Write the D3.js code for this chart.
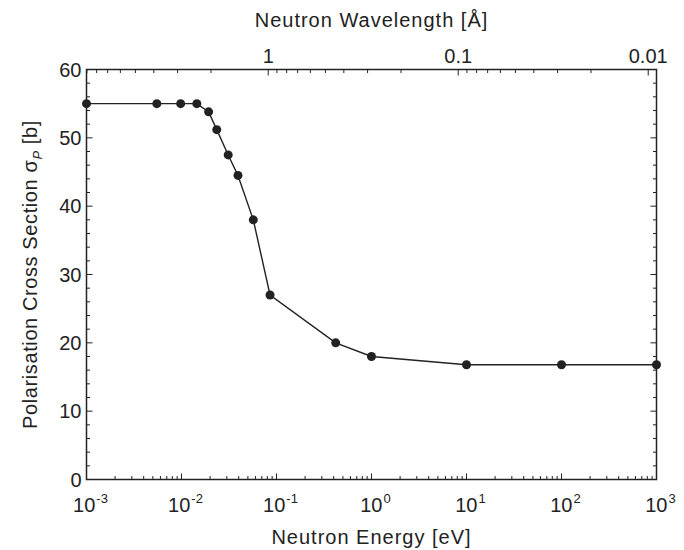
<!DOCTYPE html>
<html lang="en">
<head>
  <meta charset="UTF-8">
  <title>Polarisation cross section</title>
  <style>
    body { margin: 0; background: #fff; }
    text { font-family: 'Liberation Sans', Arial, sans-serif; fill: #222; }
  </style>
</head>
<body>
  <svg id="svg" width="684" height="550"></svg>

  <script src="https://d3js.org/d3.v7.min.js"></script>
  <script>
    // data
    const energy = [0.001, 0.0055, 0.0098, 0.0145, 0.0193, 0.0235, 0.031, 0.0393, 0.057, 0.0855, 0.42, 1, 10, 100, 1000]
    const sigma = [55, 55, 55, 55, 53.8, 51.2, 47.5, 44.5, 38, 27, 20, 18, 16.8, 16.8, 16.8]
    const energyTicks = [1e-3, 1e-2, 1e-1, 1e0, 1e1, 1e2, 1e3]
    const energyExps = ['-3', '-2', '-1', '0', '1', '2', '3']
    const sigmaTicks = [0, 10, 20, 30, 40, 50, 60]
    const lambdaTicks = [1, 0.1, 0.01]
    const lambdaLabels = ['1', '0.1', '0.01']

    const pl = 86.5, pr = 656.5, pt = 69.5, pb = 479.5
    const ink = '#222'

    // E [eV] = 0.08181 / lambda^2
    const lambdaToE = l => 0.08181 / (l * l)

    const x = d3.scaleLog().domain([1e-3, 1e3]).range([pl, pr])
    const y = d3.scaleLinear().domain([0, 60]).range([pb, pt])

    const svg = d3.select('#svg')

    // minor ticks
    const minorE = []
    for (let p = -3; p < 3; p++) {
      for (let m = 2; m <= 9; m++) minorE.push(m * Math.pow(10, p))
    }
    const minorL = []
    for (let p = 0; p >= -2; p--) {
      for (let m = 2; m <= 9; m++) minorL.push(m * Math.pow(10, p))
    }
    const minorLin = d3.range(0, 61, 2).filter(v => v % 10 !== 0)

    const ticks = svg.append('g')
      .attr('stroke', ink)
      .attr('stroke-width', 1)

    // bottom
    ticks.append('g').selectAll('line').data(energyTicks).enter().append('line')
      .attr('x1', d => x(d)).attr('x2', d => x(d))
      .attr('y1', pb).attr('y2', pb - 6)
    ticks.append('g').selectAll('line').data(minorE).enter().append('line')
      .attr('x1', d => x(d)).attr('x2', d => x(d))
      .attr('y1', pb).attr('y2', pb - 3.5)

    // top (wavelength)
    ticks.append('g').selectAll('line').data(lambdaTicks).enter().append('line')
      .attr('x1', d => x(lambdaToE(d))).attr('x2', d => x(lambdaToE(d)))
      .attr('y1', pt).attr('y2', pt + 6)
    ticks.append('g').selectAll('line').data(minorL.filter(l => lambdaToE(l) >= 1e-3 && lambdaToE(l) <= 1e3)).enter().append('line')
      .attr('x1', d => x(lambdaToE(d))).attr('x2', d => x(lambdaToE(d)))
      .attr('y1', pt).attr('y2', pt + 3.5)

    // left and right
    ;[[pl, 1], [pr, -1]].forEach(([sx, dir]) => {
      ticks.append('g').selectAll('line').data(sigmaTicks).enter().append('line')
        .attr('x1', sx).attr('x2', sx + dir * 6)
        .attr('y1', d => y(d)).attr('y2', d => y(d))
      ticks.append('g').selectAll('line').data(minorLin).enter().append('line')
        .attr('x1', sx).attr('x2', sx + dir * 3.5)
        .attr('y1', d => y(d)).attr('y2', d => y(d))
    })

    // frame
    svg.append('rect')
      .attr('x', pl).attr('y', pt)
      .attr('width', pr - pl).attr('height', pb - pt)
      .attr('fill', 'none')
      .attr('stroke', ink)
      .attr('stroke-width', 1.5)

    // curve
    const pts = energy.map((e, i) => [x(e), y(sigma[i])])
    svg.append('path')
      .attr('d', d3.line()(pts))
      .attr('fill', 'none')
      .attr('stroke', ink)
      .attr('stroke-width', 1.4)
    svg.append('g').selectAll('circle').data(pts).enter().append('circle')
      .attr('cx', d => d[0]).attr('cy', d => d[1])
      .attr('r', 4.5)
      .attr('fill', ink)

    // tick labels
    svg.append('g').selectAll('text').data(sigmaTicks).enter().append('text')
      .attr('x', pl - 5).attr('y', d => y(d) + 7)
      .attr('text-anchor', 'end')
      .style('font-size', '20px')
      .text(d => d)

    const bl = svg.append('g').selectAll('text').data(energyTicks).enter().append('text')
      .attr('x', d => x(d) + 4).attr('y', 512)
      .attr('text-anchor', 'middle')
      .style('font-size', '20px')
    bl.append('tspan').text('10')
    bl.append('tspan').attr('dx', 1).attr('dy', -9).style('font-size', '13px').text((d, i) => energyExps[i])

    svg.append('g').selectAll('text').data(lambdaTicks).enter().append('text')
      .attr('x', d => x(lambdaToE(d))).attr('y', 63)
      .attr('text-anchor', 'middle')
      .style('font-size', '20px')
      .text((d, i) => lambdaLabels[i])

    // titles
    svg.append('text')
      .attr('x', (pl + pr) / 2).attr('y', 27)
      .attr('text-anchor', 'middle')
      .style('font-size', '20px')
      .style('letter-spacing', '1px')
      .text('Neutron Wavelength [Å]')

    svg.append('text')
      .attr('x', (pl + pr) / 2).attr('y', 544)
      .attr('text-anchor', 'middle')
      .style('font-size', '20px')
      .style('letter-spacing', '1px')
      .text('Neutron Energy [eV]')

    const yt = svg.append('text')
      .attr('transform', `translate(37, ${(pt + pb) / 2}) rotate(-90)`)
      .attr('text-anchor', 'middle')
      .style('font-size', '20px')
      .style('letter-spacing', '0.6px')
    yt.append('tspan').text('Polarisation Cross Section σ')
    yt.append('tspan').attr('dy', 5).style('font-size', '13px').style('font-style', 'italic').text('P')
    yt.append('tspan').attr('dy', -5).text(' [b]')
  </script>
</body>
</html>
